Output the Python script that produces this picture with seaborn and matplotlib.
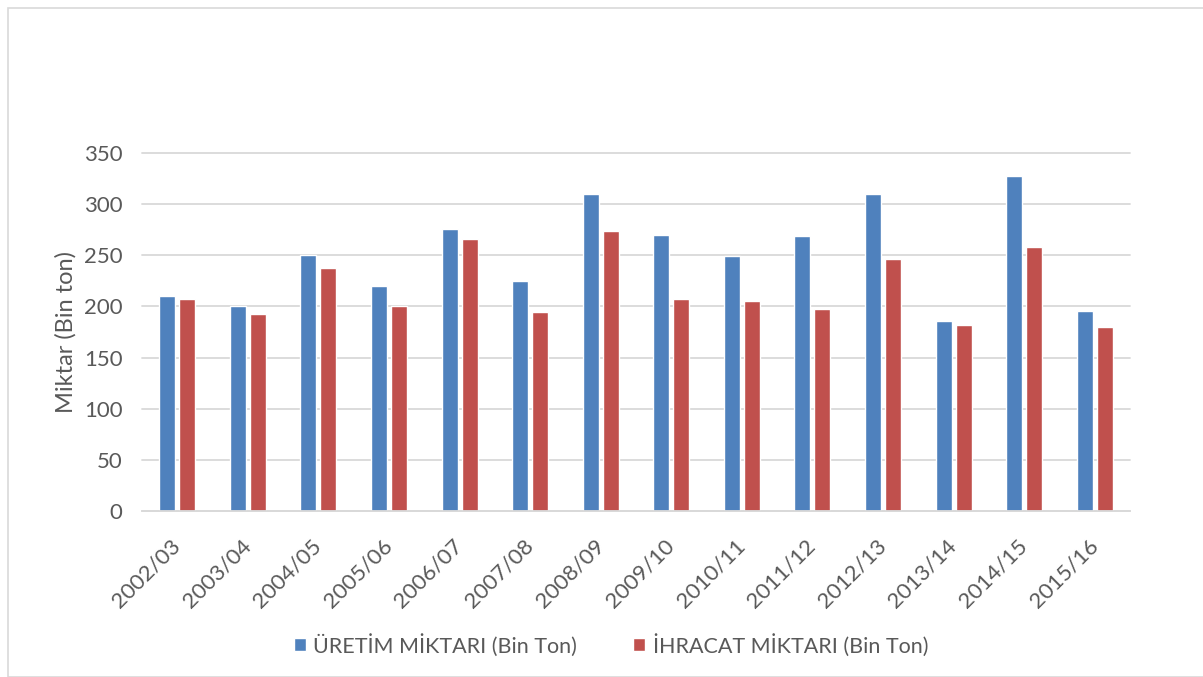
import matplotlib
matplotlib.use("Agg")
import matplotlib.pyplot as plt
import seaborn as sns
import pandas as pd
from matplotlib.patches import Rectangle

seasons = ["2002/03", "2003/04", "2004/05", "2005/06", "2006/07", "2007/08", "2008/09",
           "2009/10", "2010/11", "2011/12", "2012/13", "2013/14", "2014/15", "2015/16"]
uretim = [210, 200, 250, 220, 276, 225, 310, 270, 249, 269, 310, 186, 328, 196]
ihracat = [207, 193, 238, 200, 266, 195, 274, 207, 205, 197, 246, 182, 258, 180]
series_names = ["ÜRETİM MİKTARI (Bin Ton)", "İHRACAT MİKTARI (Bin Ton)"]
colors = ["#4F81BD", "#C0504D"]

df = pd.DataFrame({
    "Sezon": seasons * 2,
    "Değer": uretim + ihracat,
    "Seri": [series_names[0]] * len(seasons) + [series_names[1]] * len(seasons),
})

sns.set_theme(style="white")
plt.rcParams['font.family'] = ['Lato', 'DejaVu Sans']
text_color = "#595959"

W, H = 1203, 677
fig = plt.figure(figsize=(W / 100, H / 100), dpi=100)
fig.patches.append(Rectangle((8 / W, 0), 1.5, 1 - 8 / H, transform=fig.transFigure,
                             fill=False, edgecolor="#d9d9d9", linewidth=1.2, zorder=0))

ax = fig.add_axes([142 / W, 1 - 511 / H, (1130 - 142) / W, (511 - 153) / H])
sns.barplot(data=df, x="Sezon", y="Değer", hue="Seri", palette=colors,
            width=0.567, gap=0.2, ax=ax, legend=True, saturation=1)

ax.set_ylim(0, 350)
ax.set_xlim(-0.5, len(seasons) - 0.5)
ax.set_yticks(range(0, 351, 50))
ax.yaxis.grid(True, color="#d9d9d9", linewidth=1.3)
ax.set_axisbelow(True)
for g in ax.get_ygridlines():
    g.set_clip_on(False)
for s in ["top", "right", "left"]:
    ax.spines[s].set_visible(False)
ax.spines["bottom"].set_color("#d9d9d9")
ax.spines["bottom"].set_linewidth(1.3)
ax.tick_params(axis="both", length=0, colors=text_color, labelsize=16)
ax.tick_params(axis="y", pad=14)
ax.set_xlabel("")
ax.set_ylabel("Miktar (Bin ton)", fontsize=17, color=text_color, labelpad=5)
for lab in ax.get_xticklabels():
    lab.set_rotation(45)
    lab.set_ha("right")
    lab.set_va("center")
    lab.set_rotation_mode("anchor")
ax.tick_params(axis="x", pad=23)

handles, labels = ax.get_legend_handles_labels()
ax.legend_.remove()
fig.legend(handles, labels, loc="center", bbox_to_anchor=(611 / W, 1 - 645 / H), ncol=2,
           frameon=False, fontsize=15.5, labelcolor=text_color, handlelength=0.55,
           handleheight=0.55, handletextpad=0.35, columnspacing=2.6)

fig.savefig("out.png", dpi=100)
